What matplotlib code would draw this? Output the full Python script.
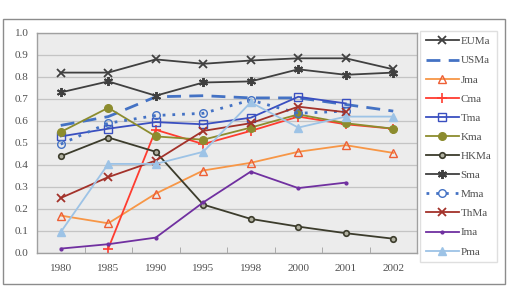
import numpy as np
import matplotlib
matplotlib.use('Agg')
import matplotlib.pyplot as plt
from matplotlib.patches import Rectangle

nan = np.nan
anios = ['1980', '1985', '1990', '1995', '1998', '2000', '2001', '2002']

EUMa = [0.82, 0.82, 0.88, 0.86, 0.875, 0.885, 0.885, 0.835]
USMa = [0.58, 0.62, 0.71, 0.715, 0.705, 0.705, 0.675, 0.645]
Jma = [0.17, 0.135, 0.27, 0.375, 0.41, 0.46, 0.49, 0.455]
Cma = [nan, 0.02, 0.56, 0.495, 0.555, 0.62, 0.585, 0.565]
Tma = [0.53, 0.565, 0.595, 0.585, 0.615, 0.71, 0.68, nan]
Kma = [0.55, 0.66, 0.53, 0.515, 0.57, 0.63, 0.59, 0.565]
HKMa = [0.44, 0.525, 0.46, 0.22, 0.155, 0.12, 0.09, 0.065]
Sma = [0.73, 0.78, 0.715, 0.775, 0.78, 0.835, 0.81, 0.82]
Mma = [0.495, 0.59, 0.625, 0.635, 0.695, 0.635, 0.645, nan]
ThMa = [0.25, 0.345, 0.42, 0.555, 0.59, 0.665, 0.64, nan]
Ima = [0.02, 0.04, 0.07, 0.23, 0.37, 0.295, 0.32, nan]
Pma = [0.095, 0.405, 0.405, 0.46, 0.685, 0.57, 0.62, 0.62]

plt.rcParams['font.family'] = ['Liberation Serif', 'DejaVu Serif']

fig = plt.figure(figsize=(5.08, 2.87), dpi=100)
fig.patch.set_facecolor('white')
# marco exterior
fig.patches.append(Rectangle((3/508, 3/287), 502/508, 265/287, transform=fig.transFigure,
                             fill=False, edgecolor='#8c8c8c', linewidth=1.0))

ax = fig.add_axes([37/508, 34/287, 380/508, 220/287])
ax.set_facecolor('#ececec')
x = np.arange(len(anios))

# (nombre, datos, color, estilo, marcador, kwargs de marcador)
series = [
    ('EUMa', EUMa, '#404040', '-', 'x', dict(ms=5.5, mew=1.3)),
    ('USMa', USMa, '#4472c4', (0, (5, 3)), None, {}),
    ('Jma', Jma, '#f79646', '-', '^', dict(ms=5.5, mfc='none', mec='#ee5f35', mew=1.0)),
    ('Cma', Cma, '#ff3c30', '-', '+', dict(ms=7, mew=1.2)),
    ('Tma', Tma, '#3a4fc0', '-', 's', dict(ms=5.5, mfc='none', mew=1.0)),
    ('Kma', Kma, '#8c8c2e', '-', 'o', dict(ms=5.5)),
    ('HKMa', HKMa, '#3c3c2c', '-', 'o', dict(ms=4, mfc='#b0b0a0', mew=1.2)),
    ('Sma', Sma, '#404040', '-', (6, 2, 0), dict(ms=6.5, mew=1.4)),
    ('Mma', Mma, '#4472c4', (0, (1, 2.5)), 'o', dict(ms=5.5, mfc='none', mew=1.0)),
    ('ThMa', ThMa, '#a3322a', '-', 'x', dict(ms=5.5, mew=1.3)),
    ('Ima', Ima, '#7030a0', '-', 'o', dict(ms=2)),
    ('Pma', Pma, '#9dc3e6', '-', '^', dict(ms=5.5)),
]

for nombre, datos, color, estilo, marca, extra in series:
    lw = 2.0 if estilo != '-' else 1.3
    ax.plot(x, datos, color=color, linestyle=estilo, marker=marca, linewidth=lw,
            label=nombre, **extra)

ax.set_xlim(-0.5, len(anios) - 0.5)
ax.set_ylim(0, 1.0)
ax.set_yticks(np.arange(0, 1.01, 0.1))
ax.set_yticklabels(['%.1f' % v for v in np.arange(0, 1.01, 0.1)])
ax.set_xticks(x)
ax.set_xticklabels(anios)
ax.set_xticks(np.arange(-0.5, len(anios), 1), minor=True)
ax.tick_params(axis='x', which='major', length=0, pad=8, labelsize=8, colors='#505050')
ax.tick_params(axis='x', which='minor', length=4, direction='in', color='#a0a0a0')
ax.tick_params(axis='y', length=0, pad=6, labelsize=8, colors='#505050')
ax.grid(axis='y', color='#c4c4c4', linewidth=0.9)
ax.set_axisbelow(True)
for lado in ax.spines.values():
    lado.set_color('#a0a0a0')
    lado.set_linewidth(1.0)

fig.legend(loc='upper left', bbox_to_anchor=(420/508, 1 - 31/287), fontsize=8,
           handlelength=3.0, handletextpad=0.15, labelspacing=0.84, borderpad=0.5,
           borderaxespad=0, frameon=True, fancybox=False, edgecolor='#d8d8d8',
           labelcolor='#505050')

fig.savefig('out.png', dpi=100)
